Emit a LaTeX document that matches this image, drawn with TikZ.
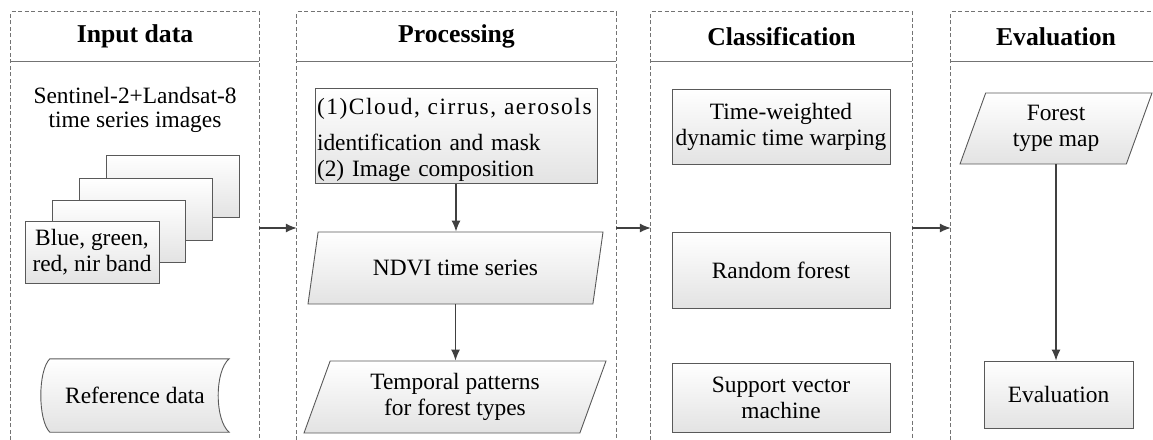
\documentclass[tikz,border=0pt]{standalone}
\usepackage{fontspec}
\setmainfont{Liberation Serif}
\usetikzlibrary{arrows.meta,shapes.geometric,calc,backgrounds}

\begin{document}
\begin{tikzpicture}[x=1pt,y=-1pt,
  base/.style={font=\fontsize{23.4}{26}\selectfont, align=center, inner sep=2pt},
  boxfill/.style={top color=white, bottom color=black!11, draw=black!65, line width=0.9pt},
  procbox/.style={base, boxfill, rectangle},
  databox/.style={base, boxfill, trapezium, trapezium left angle=63,
    trapezium right angle=117, trapezium stretches body},
  lanehead/.style={font=\fontsize{25.7}{30}\selectfont\bfseries, minimum height=49pt, inner sep=0pt},
  lanedash/.style={draw=black!55, line width=0.8pt, dash pattern=on 4pt off 2.5pt},
  laneline/.style={draw=black!55, line width=0.8pt},
  flow/.style={draw=black!75, line width=1.2pt, -{Latex[length=11pt,width=9pt]}},
]
\clip (0,0) rectangle (1153,439);

% lane headers
\node[lanehead, minimum width=248pt] (h1) at (135,36.5) {Input data};
\node[lanehead, minimum width=319pt] (h2) at (456.5,36.5) {Processing};
\node[lanehead, minimum width=261pt] (h3) at (781.5,36.5) {Classification};
\node[lanehead, minimum width=210pt] (h4) at (1056,36.5) {Evaluation};

\coordinate (floor) at (0,440);
\coordinate (mid) at (0,228);

\foreach \h in {h1,h2,h3,h4}{
  \draw[lanedash] (\h.west |- floor) -- (\h.north west) -- (\h.north east) -- (\h.east |- floor);
  \draw[laneline] (\h.south west) -- (\h.south east);
}

% input data
\node[base, font=\fontsize{23.4}{24}\selectfont] (sat) at (135,110) {Sentinel-2+Landsat-8\\time series images};
\foreach \i/\x/\y in {4/172.5/186, 3/145.5/209, 2/118.5/231}
  \node[procbox, minimum width=133pt, minimum height=62pt] (img\i) at (\x,\y) {};
\node[procbox, minimum width=134pt, minimum height=62pt] (img1) at (92,252) {Blue, green,\\red, nir band};

\node[base, minimum width=188pt, minimum height=73pt] (ref) at (135,395.5) {Reference data};
\begin{scope}[on background layer]
  \path[boxfill] ($(ref.north west)+(9,0)$) -- (ref.north east)
    .. controls ($(ref.north east)+(-14.7,12)$) and ($(ref.south east)+(-14.7,-12)$) .. (ref.south east)
    -- ($(ref.south west)+(9,0)$)
    .. controls ($(ref.south west)+(-3,-12)$) and ($(ref.north west)+(-3,12)$) .. cycle;
\end{scope}

% processing
\node[procbox, align=left, text width=278pt, minimum height=94pt, inner xsep=2pt] (prep) at (456,136)
  {\rule{0pt}{24pt}\mbox{\addfontfeature{LetterSpace=6.7}(1)Cloud, cirrus, aerosols}\\[10pt]identification and mask\\(2) Image composition};
\node[databox, minimum width=295pt, minimum height=72pt] (ndvi) at (455.5,268) {NDVI time series};
\node[databox, minimum width=302pt, minimum height=72pt] (temp) at (455,397) {Temporal patterns\\for forest types};

% classification
\node[procbox, minimum width=218pt, minimum height=75pt] (twdtw) at (781,126.5) {Time-weighted\\dynamic time warping};
\node[procbox, minimum width=218pt, minimum height=76pt] (rf) at (781,270) {Random forest};
\node[procbox, minimum width=218pt, minimum height=69pt] (svm) at (781,397.5) {Support vector\\machine};

% evaluation
\node[databox, minimum width=192pt, minimum height=71pt] (ftm) at (1056,128.5) {Forest\\type map};
\node[procbox, minimum width=149pt, minimum height=67pt] (eval) at (1058.5,394.5) {Evaluation};

% connectors
\draw[flow] (prep.south) -- (prep.south |- ndvi.north);
\draw[flow] (ndvi.south) -- (ndvi.south |- temp.north);
\draw[flow] (ftm.south) -- (ftm.south |- eval.north);
\draw[flow] (h1.east |- mid) -- (h2.west |- mid);
\draw[flow] (h2.east |- mid) -- (h3.west |- mid);
\draw[flow] (h3.east |- mid) -- (h4.west |- mid);
\end{tikzpicture}
\end{document}
